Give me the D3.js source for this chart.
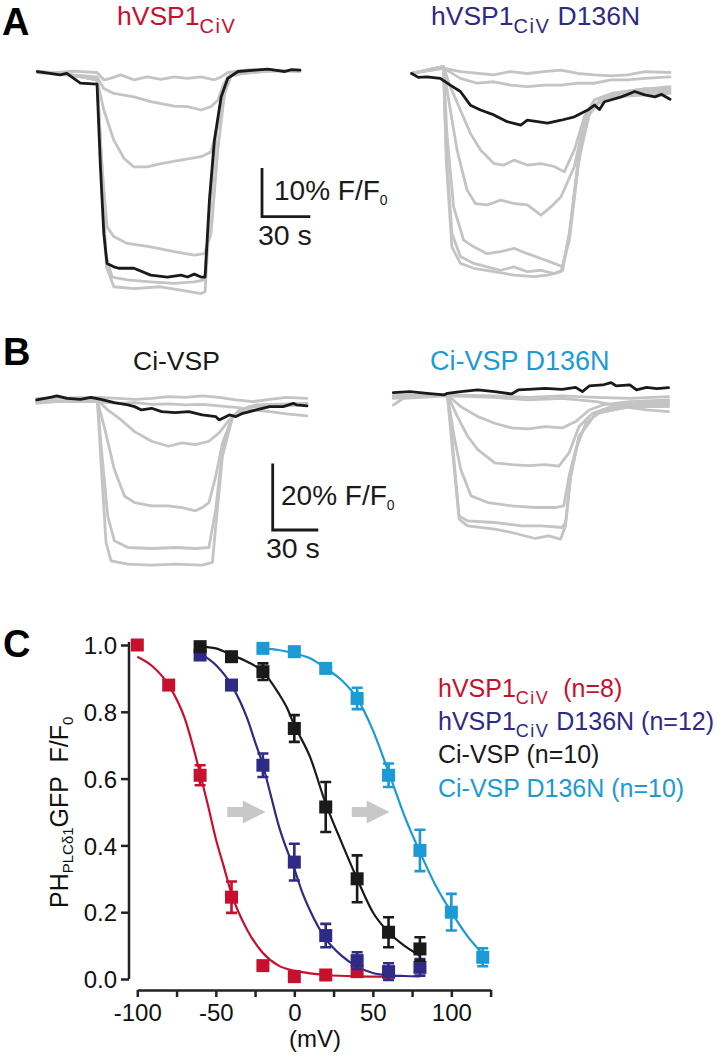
<!DOCTYPE html>
<html><head><meta charset="utf-8">
<script src="https://cdn.jsdelivr.net/npm/d3@7"></script>
<style>
body{margin:0;background:#fff}
svg text{font-family:"Liberation Sans",Arial,Helvetica,sans-serif;white-space:pre}
</style>
</head><body>
<svg id="fig" width="719" height="1056"></svg>
<script>
// ===================== DATA =====================
// Panel A, left (hVSP1 CiV): [time s, ΔF/F0 %]
const A1_black = [[0.2,0.1],[8.1,-0.3],[14.4,-0.6],[18.5,-0.3],[26.9,-2.3],[37.3,-2.5],[39.4,-19.5],[41.5,-33.2],[43.5,-39.3],[47.7,-40.0],[50.8,-40.3],[60.2,-40.3],[70.6,-41.7],[81,-42.1],[89.4,-41.7],[93.5,-42.1],[97.7,-41.5],[101.9,-42.1],[104.4,-42.1],[107.1,-26.3],[110.2,-14.0],[114.4,-5.1],[118.5,-1.3],[124.8,0.1],[135.2,0.4],[143.5,0.6],[154,0.1],[158.1,0.5],[163.3,0.4]];
const A1_gray = [
 [[0.2,0.1],[10,-0.2],[22,0.2],[37.3,-0.1],[41.5,-1.6],[45.6,-1.3],[51.9,-0.6],[60.2,-1.6],[68.5,-1.0],[76.9,-1.5],[85.2,-1.0],[93.5,-1.3],[101.9,-1.0],[110.2,-1.6],[114.4,-1.0],[118.5,-0.1],[132,0.5],[146,0.2],[163.3,0.3]],
 [[0.2,0.1],[15,-0.4],[37.3,-1.0],[41.5,-3.4],[47.7,-4.4],[60.2,-5.1],[70.6,-6.1],[85.2,-7.0],[93.5,-7.1],[101.9,-7.8],[108.1,-7.1],[112.3,-5.8],[115.4,-3.0],[118.5,-1.0],[135,0.3],[163.3,0.3]],
 [[0.2,0.1],[20,-0.6],[37.3,-1.6],[41.5,-7.8],[47.7,-14.0],[54,-17.7],[60.2,-19.5],[68.5,-19.5],[76.9,-18.8],[89.4,-18.1],[101.9,-17.4],[108.1,-16.4],[112.3,-11.2],[116.5,-4.4],[120.6,-0.6],[140,0.2],[163.3,0.3]],
 [[0.2,0.1],[25,-0.8],[37.3,-1.6],[40.4,-19.5],[43.5,-31.8],[47.7,-33.8],[56,-35.2],[70.6,-35.9],[85.2,-36.9],[97.7,-37.6],[104,-37.3],[108.1,-33.2],[112.3,-16.0],[116.5,-4.4],[120.6,-0.6],[150,0.4],[163.3,0.1]],
 [[0.2,0.2],[18,-0.4],[37.3,-1.6],[40,-19.5],[42.5,-37.3],[46.7,-42.1],[56,-42.7],[70.6,-43.1],[85.2,-43.4],[97.7,-43.1],[104,-42.7],[107.1,-29.7],[111.3,-12.6],[115.4,-3.0],[120.6,-0.4],[145,0.3],[163.3,0.4]],
 [[0.2,-0.1],[28,-0.9],[37.3,-1.6],[40.4,-19.5],[43.1,-40.0],[47.7,-44.1],[60.2,-44.5],[76.9,-44.1],[89.4,-44.8],[101.9,-45.5],[104.4,-45.1],[107.1,-29.7],[111.3,-12.6],[115.4,-3.0],[120.6,-0.4],[140,0.5],[163.3,0.1]]
];
// Panel A, right (hVSP1 CiV D136N)
const A2_black = [[1,-0.1],[5.2,-0.9],[10.4,-0.8],[18.8,-1.1],[25,-2.5],[31.3,-3.8],[37.5,-6.6],[43.8,-7.6],[52.1,-8.6],[60.4,-10.0],[68.8,-10.7],[72.9,-9.7],[79.2,-10.0],[85.4,-10.3],[93.8,-9.7],[102.1,-9.0],[110.4,-7.6],[114.6,-6.6],[117.7,-7.5],[120.8,-5.9],[131.3,-4.9],[139.6,-3.8],[145.8,-4.5],[152.1,-4.9],[156.3,-4.4],[161.5,-5.4]];
const A2_gray = [
 [[1,-0.1],[20.8,1.0],[31.3,0.3],[52.1,-0.4],[62.5,0.3],[72.9,-0.1],[83.3,0.3],[93.8,0.6],[104.2,-0.1],[114.6,-0.4],[125,-0.6],[135.4,-0.4],[145.8,0.3],[161.5,0.1]],
 [[1,-0.1],[20.8,1.0],[31.3,-1.1],[41.7,-2.1],[52.1,-1.8],[62.5,-2.5],[72.9,-2.8],[83.3,-2.5],[93.8,-2.5],[104.2,-2.1],[114.6,-2.1],[125,-1.4],[135.4,-1.4],[145.8,-1.1],[161.5,-0.8]],
 [[1,-0.1],[20.8,1.3],[25,-2.8],[31.3,-7.6],[37.5,-12.4],[43.8,-15.8],[52.1,-18.6],[58.3,-18.9],[64.6,-17.9],[72.9,-18.9],[81.3,-18.6],[89.6,-19.2],[95.8,-20.3],[102.1,-15.8],[108.3,-9.0],[114.6,-5.5],[125,-4.2],[139.6,-3.5],[161.5,-2.8]],
 [[1,-0.1],[20.8,1.3],[24,-5.5],[29.2,-15.8],[35.4,-24.0],[40.6,-26.8],[47.9,-27.1],[56.3,-26.1],[64.6,-26.8],[72.9,-27.1],[81.3,-29.2],[87.5,-27.5],[93.8,-25.4],[102.1,-19.2],[108.3,-9.7],[114.6,-5.5],[127.1,-4.2],[145.8,-3.2],[161.5,-3.2]],
 [[1,-0.1],[20.8,1.3],[22.9,-12.4],[27.1,-27.5],[33.3,-34.3],[39.6,-35.7],[47.9,-37.1],[56.3,-36.7],[64.6,-36.0],[72.9,-37.1],[81.3,-38.1],[89.6,-39.1],[94.8,-39.8],[99,-32.9],[104.2,-19.2],[110.4,-9.0],[118.8,-5.2],[135.4,-3.8],[161.5,-3.5]],
 [[1,-0.1],[20.8,1.3],[22.5,-15.8],[26,-32.9],[31.3,-37.7],[39.6,-39.1],[47.9,-39.8],[56.3,-40.5],[64.6,-39.8],[72.9,-40.8],[81.3,-40.5],[89.6,-41.2],[94.8,-40.5],[99,-32.9],[105.2,-15.8],[112.5,-6.9],[122.9,-4.9],[161.5,-3.8]],
 [[1,-0.1],[20.8,1.3],[22.5,-17.9],[26,-35.7],[31.3,-39.1],[39.6,-40.1],[52.1,-40.8],[64.6,-41.5],[77.1,-41.8],[85.4,-41.5],[93.8,-40.8],[99,-34.3],[105.2,-17.2],[112.5,-6.9],[127.1,-4.9],[161.5,-4.2]]
];
// Panel B, left (Ci-VSP)
const B1_black = [[0,-0.2],[8.9,0.6],[13.3,1.0],[20,0.3],[28.9,0],[35.6,0.6],[42.2,0],[51.1,-1.0],[60,-1.7],[64.4,-2.2],[68.9,-3.2],[75.6,-2.7],[82.2,-3.7],[91.1,-4.0],[100,-3.7],[108.9,-4.7],[117.8,-5.2],[120,-6.2],[126.7,-4.7],[131.1,-5.2],[135.6,-4.2],[144.4,-3.2],[153.3,-2.2],[162.2,-2.2],[168.9,-1.2],[171.1,-1.7],[177.8,-2.0]];
const B1_gray = [
 [[0,0.3],[40,0.6],[53.3,0.3],[64.4,0],[75.6,0.3],[86.7,0.8],[97.8,0.6],[108.9,1.0],[120,0.6],[131.1,-0.2],[142.2,-0.7],[153.3,0],[164.4,0.6],[177.8,0.3]],
 [[0,-1.2],[20,-0.4],[40,-0.7],[53.3,-1.2],[64.4,-1.0],[75.6,-1.5],[86.7,-1.4],[97.8,-1.7],[108.9,-1.5],[120,-2.0],[131.1,-2.4],[142.2,-3.2],[153.3,-3.7],[164.4,-4.4],[177.8,-5.0]],
 [[0,-0.7],[40,-0.2],[46.7,-3.2],[55.6,-6.2],[64.4,-9.7],[75.6,-12.6],[86.7,-14.1],[95.6,-13.1],[104.4,-13.6],[113.3,-12.6],[120,-10.1],[126.7,-6.2],[133.3,-3.2],[144.4,-1.7],[177.8,-1.2]],
 [[0,-0.7],[40,-0.7],[44.4,-8.2],[51.1,-21.1],[57.8,-29.1],[64.4,-31.0],[75.6,-32.0],[86.7,-32.0],[95.6,-32.5],[104.4,-33.5],[108.9,-32.5],[113.3,-31.0],[117.8,-23.1],[122.2,-13.1],[128.9,-5.2],[140,-2.2],[177.8,-1.2]],
 [[0,-0.7],[40,-0.7],[42.2,-13.1],[46.7,-35.0],[51.1,-42.5],[60,-44.5],[75.6,-44.8],[91.1,-44.5],[104.4,-44.8],[113.3,-44.5],[117.8,-33.0],[122.2,-15.1],[128.9,-5.2],[140,-2.2],[177.8,-1.4]],
 [[0,-0.4],[40,-0.7],[42.2,-18.1],[45.6,-43.0],[48.9,-48.5],[60,-49.5],[75.6,-49.8],[91.1,-49.5],[108.9,-49.8],[115.6,-49.0],[117.8,-38.0],[122.2,-17.1],[128.9,-5.2],[140,-2.2],[177.8,-1.7]]
];
// Panel B, right (Ci-VSP D136N)
const B2_black = [[0,0.2],[11.1,0.5],[22.2,0],[33.3,-0.5],[35.6,0],[44.4,0.5],[55.6,1.0],[66.7,0.5],[77.8,-0.2],[82.2,1.0],[88.9,1.2],[100,1.5],[111.1,1.2],[120,1.8],[124.4,0.5],[128.9,2.2],[137.8,2.5],[143.3,3.2],[146.7,2.2],[155.6,2.5],[160,1.0],[166.7,1.8],[173.3,1.4],[181.1,1.7]];
const B2_gray = [
 [[0,-1.0],[35.6,-0.5],[66.7,-0.8],[88.9,-1.2],[111.1,-0.8],[133.3,-1.2],[155.6,-1.5],[181.1,-1.0]],
 [[0,-3.5],[6.7,-1.5],[35.6,-0.8],[66.7,-1.2],[88.9,-2.0],[111.1,-1.5],[133.3,-2.5],[151.1,-4.0],[166.7,-5.0],[181.1,-5.5]],
 [[0,-1.5],[35.6,-0.5],[44.4,-4.0],[55.6,-7.0],[66.7,-9.0],[77.8,-10.4],[88.9,-10.7],[100,-10.0],[111.1,-10.4],[120,-8.5],[128.9,-5.0],[137.8,-3.5],[155.6,-2.5],[181.1,-2.0]],
 [[0,-1.2],[35.6,-0.5],[42.2,-7.0],[48.9,-12.9],[55.6,-16.9],[66.7,-20.9],[77.8,-21.4],[88.9,-21.7],[100,-21.4],[108.9,-21.9],[115.6,-17.9],[122.2,-10.0],[131.1,-6.0],[146.7,-3.5],[181.1,-2.5]],
 [[0,-0.8],[35.6,-0.5],[40,-12.9],[44.4,-22.9],[51.1,-30.8],[62.2,-32.8],[77.8,-33.8],[93.3,-34.3],[106.7,-34.3],[112.2,-33.8],[115.6,-24.9],[120,-16.9],[126.7,-9.0],[137.8,-5.0],[155.6,-3.5],[181.1,-3.0]],
 [[0,-0.8],[35.6,-0.5],[38.9,-14.9],[43.3,-36.8],[48.9,-38.3],[66.7,-38.8],[84.4,-39.8],[97.8,-39.8],[111.1,-40.3],[113.3,-38.8],[116.7,-24.9],[122.2,-12.9],[133.3,-6.0],[155.6,-4.0],[181.1,-3.5]],
 [[0,-0.8],[35.6,-0.5],[38.9,-16.9],[43.3,-37.8],[48.9,-39.8],[66.7,-40.8],[77.8,-41.8],[93.3,-43.6],[102.2,-42.8],[110,-43.8],[113.3,-39.8],[116.7,-24.9],[122.2,-12.9],[133.3,-6.0],[155.6,-4.0],[181.1,-4.0]]
];
// scale bars [seconds, percent]
const scaleBarA = [30, 10];
const scaleBarB = [30, 20];

// Panel C: voltage (mV) vs PH-PLCδ1-GFP F/F0
const redV    = [-100,-80,-60,-40,-20,0,20,40,60];
const redMean = [1.0,0.88,0.61,0.245,0.04,0.007,0.012,0.022,0.02];
const redErr  = [0.005,0.012,0.03,0.047,0.01,0.005,0.005,0.01,0.01];
const navyV    = [-60,-40,-20,0,20,40,60,80];
const navyMean = [0.97,0.88,0.64,0.35,0.13,0.055,0.022,0.035];
const navyErr  = [0.01,0.012,0.035,0.055,0.035,0.025,0.025,0.025];
const blackV    = [-60,-40,-20,0,20,40,60,80];
const blackMean = [0.995,0.965,0.92,0.75,0.515,0.30,0.14,0.09];
const blackErr  = [0.005,0.01,0.025,0.04,0.075,0.07,0.045,0.035];
const cyanV    = [-20,0,20,40,60,80,100,120];
const cyanMean = [0.99,0.98,0.93,0.84,0.61,0.385,0.20,0.065];
const cyanErr  = [0.005,0.008,0.01,0.032,0.035,0.062,0.055,0.027];
// fitted curves
const redFitV = [-100,-90,-80,-70,-60,-55,-50,-45,-40,-30,-20,-10,0,10,20,40,60];
const redFit  = [0.965,0.935,0.88,0.783,0.615,0.52,0.42,0.338,0.255,0.147,0.078,0.04,0.025,0.017,0.012,0.008,0.007];
const navyFitV = [-60,-50,-40,-30,-25,-20,-15,-10,-5,0,5,10,20,30,40,50,60,70,80];
const navyFit  = [0.975,0.94,0.88,0.78,0.71,0.64,0.55,0.46,0.39,0.33,0.26,0.205,0.12,0.07,0.037,0.018,0.011,0.009,0.008];
const blackFitV = [-60,-50,-40,-30,-20,-10,-5,0,10,20,30,40,50,60,70,80];
const blackFit  = [0.995,0.99,0.97,0.95,0.92,0.855,0.815,0.76,0.665,0.525,0.41,0.30,0.20,0.14,0.10,0.07];
const cyanFitV = [-20,-10,0,10,20,30,40,50,60,70,80,90,100,110,120];
const cyanFit  = [0.99,0.985,0.975,0.96,0.93,0.895,0.84,0.745,0.62,0.49,0.38,0.28,0.20,0.13,0.075];
// shift arrows [from mV, to mV, at F/F0]
const shiftArrows = [[-42.7,-18.2,0.5],[36.6,60.7,0.5]];
const xTicks = [-100,-75,-50,-25,0,25,50,75,100,125];
const yTicks = [0,0.2,0.4,0.6,0.8,1.0];

// ===================== STYLE =====================
const RED="#c8102e", NAVY="#2f2a85", BLK="#1a1a1a", CYAN="#1b9ad6", GRAY="#c4c4c4", ARROW="#c8c8c8";
const svg = d3.select("#fig");

function rich(sel, x, y, parts, size, subSize, color, subDy, subLs){
  const t = sel.append("text").attr("x",x).attr("y",y).attr("fill",color).style("font-size",size+"px");
  let cur=0;
  parts.forEach(p=>{
    const s = p.sub ? subDy : 0;
    const ts = t.append("tspan").attr("dy", s-cur).style("font-size",(p.sub?subSize:size)+"px").text(p.t);
    if(p.sub && subLs) ts.attr("letter-spacing", subLs);
    cur = s;
  });
  return t;
}

// ---- trace panels ----
const pxA = [1.61, 4.87];   // px per s, px per %
const pxB = [1.52, 3.33];
function tracePanel(x0, y0, px, tmax, grays, black){
  const x = d3.scaleLinear().domain([0,tmax]).range([x0, x0+tmax*px[0]]);
  const y = d3.scaleLinear().domain([0,-50]).range([y0, y0+50*px[1]]);
  const line = d3.line().x(d=>x(d[0])).y(d=>y(d[1]));
  const g = svg.append("g").attr("fill","none").attr("stroke-linejoin","round").attr("stroke-linecap","round");
  grays.forEach(tr=>g.append("path").attr("d",line(tr)).attr("stroke",GRAY).attr("stroke-width",2.8));
  g.append("path").attr("d",line(black)).attr("stroke",BLK).attr("stroke-width",2.8);
}
tracePanel(37, 72, pxA, 165, A1_gray, A1_black);
tracePanel(410, 73, pxA, 165, A2_gray, A2_black);
tracePanel(36.7, 399.3, pxB, 180, B1_gray, B1_black);
tracePanel(393.3, 393.3, pxB, 182, B2_gray, B2_black);

function scaleBar(xL, yB, px, vals, label, tx, ty, sx, sy){
  const bx = d3.scaleLinear().domain([0,vals[0]]).range([xL, xL+vals[0]*px[0]]);
  const by = d3.scaleLinear().domain([0,vals[1]]).range([yB, yB-vals[1]*px[1]]);
  svg.append("path").attr("d",`M${bx(0)},${by(vals[1])}V${by(0)}H${bx(vals[0])}`)
    .attr("fill","none").attr("stroke",BLK).attr("stroke-width",2.8);
  rich(svg, tx, ty, [{t:label+"% F/F"},{t:"0",sub:true}], 28, 14, BLK, 5);
  svg.append("text").attr("x",sx).attr("y",sy).attr("fill",BLK).style("font-size","28.5px").text(vals[0]+" s");
}
scaleBar(262, 216.7, pxA, scaleBarA, scaleBarA[1], 274, 200, 258, 245);
scaleBar(272.7, 530, pxB, scaleBarB, scaleBarB[1], 281, 505, 266, 558);

// ---- titles ----
rich(svg, 117, 25, [{t:"hVSP1"},{t:"CiV",sub:true}], 26.5, 20, RED, 8, 1.5);
rich(svg, 431, 25, [{t:"hVSP1"},{t:"CiV",sub:true},{t:" D136N"}], 26.5, 20, NAVY, 8, 1.5);
svg.append("text").attr("x",133).attr("y",370).attr("fill",BLK).style("font-size","26.5px").text("Ci-VSP");
svg.append("text").attr("x",430).attr("y",370).attr("fill",CYAN).style("font-size","27px").text("Ci-VSP D136N");

// panel letters
[["A",2,35],["B",3,365],["C",3,657]].forEach(d=>svg.append("text").attr("x",d[1]).attr("y",d[2])
  .style("font-size","38px").style("font-weight","bold").attr("fill","#000").text(d[0]));

// ---- panel C ----
const xC = d3.scaleLinear().domain([-100,125]).range([137.3,490.6]);
const yC = d3.scaleLinear().domain([0,1]).range([979,645]);
const gC = svg.append("g");

const yAx = gC.append("g").attr("transform","translate(129,0)")
  .call(d3.axisLeft(yC).tickValues(yTicks).tickFormat(d3.format(".1f")).tickSize(8).tickSizeOuter(0).tickPadding(4));
const xAx = gC.append("g").attr("transform","translate(0,990)")
  .call(d3.axisBottom(xC).tickValues(xTicks).tickFormat(d=>d%50===0?d:"").tickSize(7).tickSizeOuter(0).tickPadding(7));
[yAx,xAx].forEach(a=>{
  a.selectAll("path,line").attr("stroke","#222").attr("stroke-width",2.5);
  a.selectAll("text").attr("fill","#111").style("font-size","24px").style("font-family",'"Liberation Sans",Arial,sans-serif');
});
yAx.select(".domain").attr("d",`M0,${yC(0)}V${yC(1)-3}`);
yAx.selectAll("text").attr("dy","0.36em");
xAx.selectAll("text").attr("dy","0.71em");

// axis labels
const yl = svg.append("g").attr("transform","translate(68,908) rotate(-90)");
rich(yl, 0, 0, [{t:"PH"},{t:"PLCδ1",sub:true},{t:"GFP  F/F"},{t:"0",sub:true}], 25, 15, "#111", 5);
svg.append("text").attr("x",315).attr("y",1047).attr("text-anchor","middle").attr("fill","#111").style("font-size","24px").text("(mV)");

// arrows
shiftArrows.forEach(a=>{
  const x0=xC(a[0]), x1=xC(a[1]), yc=yC(a[2]), hx=x1-23;
  gC.append("path").attr("d",`M${x0},${yc-5}H${hx}V${yc-11.5}L${x1},${yc}L${hx},${yc+11.5}V${yc+5}H${x0}Z`).attr("fill",ARROW);
});

// fits
const series = [
  {V:redV,m:redMean,e:redErr,fv:redFitV,f:redFit,c:RED},
  {V:navyV,m:navyMean,e:navyErr,fv:navyFitV,f:navyFit,c:NAVY},
  {V:blackV,m:blackMean,e:blackErr,fv:blackFitV,f:blackFit,c:BLK},
  {V:cyanV,m:cyanMean,e:cyanErr,fv:cyanFitV,f:cyanFit,c:CYAN}
];
const fitLine = d3.line().x(d=>xC(d[0])).y(d=>yC(d[1])).curve(d3.curveMonotoneX);
series.forEach(s=>{
  gC.append("path").attr("d",fitLine(s.fv.map((v,i)=>[v,s.f[i]]))).attr("fill","none").attr("stroke",s.c).attr("stroke-width",2.2);
});
series.forEach(s=>{
  const g = gC.append("g");
  s.V.forEach((v,i)=>{
    const cx=xC(v), lo=yC(s.m[i]-s.e[i]), hi=yC(s.m[i]+s.e[i]);
    g.append("path").attr("d",`M${cx},${lo}V${hi}M${cx-5.5},${lo}H${cx+5.5}M${cx-5.5},${hi}H${cx+5.5}`)
      .attr("stroke",s.c).attr("stroke-width",2.6).attr("fill","none");
    g.append("rect").attr("x",cx-6.5).attr("y",yC(s.m[i])-6.5).attr("width",13).attr("height",13).attr("fill",s.c);
  });
});

// legend
const L = svg.append("g");
rich(L, 438, 697, [{t:"hVSP1"},{t:"CiV",sub:true},{t:"  (n=8)"}], 25, 18, RED, 7, 1.5);
rich(L, 438, 730, [{t:"hVSP1"},{t:"CiV",sub:true},{t:" D136N (n=12)"}], 25, 18, NAVY, 7, 1.5);
L.append("text").attr("x",438).attr("y",763).attr("fill",BLK).style("font-size","25px").text("Ci-VSP (n=10)");
L.append("text").attr("x",438).attr("y",797).attr("fill",CYAN).style("font-size","25px").text("Ci-VSP D136N (n=10)");
</script>
</body></html>
